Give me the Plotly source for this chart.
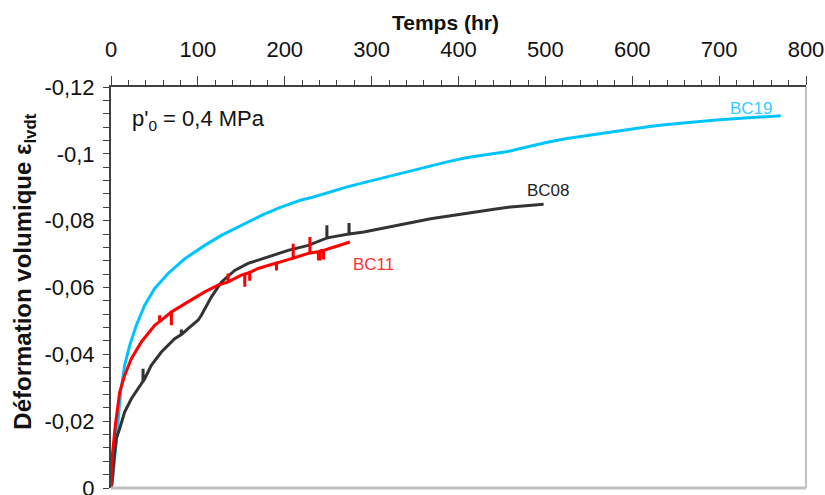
import plotly.graph_objects as go

# Temps (hr) / déformation volumique for each sample
bc19_t = [0, 1.2, 4.2, 7.3, 11.1, 15.7, 21.5, 29.2, 38.8, 50.3, 65.7, 84.9, 107.9, 127, 150,
          175, 195, 218, 233, 250, 272, 290, 310, 330, 348, 367, 387, 410, 425, 440, 455,
          470, 486, 505, 525, 545, 563, 582, 602, 620, 640, 660, 679, 700, 717, 740, 760, 771]
bc19_e = [0, -0.001, -0.0088, -0.0188, -0.0287, -0.0367, -0.0427, -0.0487, -0.0547, -0.0597,
          -0.0642, -0.0686, -0.0726, -0.0756, -0.0786, -0.0818, -0.0840, -0.0861, -0.0871,
          -0.0885, -0.0901, -0.0913, -0.0926, -0.0939, -0.0951, -0.0963, -0.0976, -0.0989,
          -0.0995, -0.1000, -0.1006, -0.1015, -0.1025, -0.1036, -0.1046, -0.1054, -0.1061,
          -0.1069, -0.1076, -0.1082, -0.1088, -0.1093, -0.1098, -0.1102, -0.1105, -0.1109,
          -0.1112, -0.1114]

bc08_t = [0, 1.2, 3.5, 6.1, 10, 15.7, 23.4, 31.1, 36.8, 36.9, 37.0, 38.8, 46.4, 58, 73.3,
          80.9, 81, 81.1, 88.7, 95, 100.2, 104, 107.9, 115.6, 127, 142.4, 157.8, 180.9, 203.9,
          227, 248.4, 248.5, 248.6, 252, 270, 273.9, 274, 274.1, 291, 310, 329, 348, 368, 387,
          406, 425, 441, 460, 480, 498]
bc08_e = [0, -0.002, -0.0088, -0.0148, -0.0178, -0.0227, -0.0267, -0.0297, -0.0319, -0.0357,
          -0.0319, -0.0327, -0.0367, -0.0407, -0.0447, -0.0459, -0.0474, -0.0459, -0.0477,
          -0.0490, -0.0502, -0.0517, -0.0537, -0.0572, -0.0616, -0.0651, -0.0672, -0.0691,
          -0.0711, -0.0726, -0.0748, -0.0786, -0.0748, -0.0750, -0.0758, -0.0760, -0.0793,
          -0.0760, -0.0766, -0.0776, -0.0786, -0.0796, -0.0806, -0.0813, -0.0821, -0.0828,
          -0.0834, -0.0841, -0.0845, -0.0849]

bc11_t = [0, 1.2, 5, 10, 15.7, 23.4, 34.9, 50.3, 55.9, 56, 56.1, 69.4, 69.5, 69.6, 88.7,
          107.9, 123.3, 134.7, 134.8, 134.9, 150, 153.9, 154, 154.1, 159.6, 159.7, 159.8,
          169.3, 188.6, 190.4, 190.5, 190.6, 209.6, 209.7, 209.8, 227, 228.9, 229, 229.1,
          238.7, 238.8, 238.9, 240.7, 240.8, 240.9, 244.5, 244.6, 244.7, 258, 275]
bc11_e = [0, -0.0088, -0.0188, -0.0287, -0.0337, -0.0387, -0.0437, -0.0487, -0.0498, -0.0517,
          -0.0498, -0.0527, -0.0487, -0.0527, -0.0557, -0.0587, -0.0607, -0.0617, -0.0642,
          -0.0617, -0.0637, -0.0640, -0.0602, -0.0640, -0.0645, -0.0620, -0.0645, -0.0657,
          -0.0672, -0.0673, -0.0651, -0.0673, -0.0688, -0.0731, -0.0688, -0.0702, -0.0703,
          -0.0751, -0.0703, -0.0707, -0.0681, -0.0707, -0.0709, -0.0681, -0.0709, -0.0711,
          -0.0684, -0.0711, -0.0722, -0.0736]

x_ticks = [0, 100, 200, 300, 400, 500, 600, 700, 800]
y_ticks = [-0.12, -0.1, -0.08, -0.06, -0.04, -0.02, 0]
y_tick_labels = ["-0,12", "-0,1", "-0,08", "-0,06", "-0,04", "-0,02", "0"]

SANS = "Liberation Sans, Arial, sans-serif"

fig = go.Figure()
fig.add_trace(go.Scatter(x=bc19_t, y=bc19_e, mode="lines",
                         line=dict(color="#00c4ff", width=3), name="BC19"))
fig.add_trace(go.Scatter(x=bc08_t, y=bc08_e, mode="lines",
                         line=dict(color="#333333", width=3), name="BC08"))
fig.add_trace(go.Scatter(x=bc11_t, y=bc11_e, mode="lines",
                         line=dict(color="#ff0000", width=3), name="BC11"))

axis_col = "#404040"
fig.update_layout(
    width=825, height=495,
    margin=dict(l=111, r=19, t=87, b=7),
    paper_bgcolor="white", plot_bgcolor="white",
    showlegend=False,
    xaxis=dict(
        side="top", range=[0, 800], tickvals=x_ticks, automargin=False,
        ticks="outside", ticklen=9, tickwidth=1.2, tickcolor=axis_col,
        minor=dict(dtick=20, ticks="outside", ticklen=5, tickwidth=1, tickcolor=axis_col),
        showline=True, linecolor=axis_col, linewidth=2,
        showgrid=False, zeroline=False,
        tickfont=dict(family=SANS, size=22, color="#111111"),
        ticklabelstandoff=10, ticklabeloverflow="allow",
    ),
    yaxis=dict(
        range=[0, -0.12], tickvals=y_ticks, ticktext=y_tick_labels, automargin=False,
        ticks="outside", ticklen=6, tickwidth=1.2, tickcolor=axis_col,
        minor=dict(dtick=0.004, ticks="outside", ticklen=6, tickwidth=1, tickcolor=axis_col),
        showline=True, linecolor=axis_col, linewidth=2,
        showgrid=False, zeroline=False,
        tickfont=dict(family=SANS, size=22, color="#111111"),
        ticklabelstandoff=4, ticklabeloverflow="allow",
    ),
    shapes=[
        dict(type="line", xref="paper", yref="paper", x0=0, x1=1, y0=0, y1=0,
             line=dict(color="#c0c0c0", width=3)),
        dict(type="line", xref="paper", yref="paper", x0=1, x1=1, y0=0, y1=1,
             line=dict(color="#c0c0c0", width=2)),
    ],
    annotations=[
        dict(text="<b>Temps (hr)</b>", xref="paper", yref="paper", x=0.482, y=1.162,
             xanchor="center", yanchor="middle", showarrow=False,
             font=dict(family=SANS, size=21, color="#111111")),
        dict(text="<b>Déformation volumique ε<sub>lvdt</sub></b>", xref="paper", yref="paper",
             x=-0.124, y=0.539, textangle=-90, xanchor="center", yanchor="middle",
             showarrow=False, font=dict(family=SANS, size=24, color="#111111")),
        dict(text="p'<sub>0</sub> = 0,4 MPa", xref="paper", yref="paper", x=0.027, y=0.917,
             xanchor="left", yanchor="middle", showarrow=False,
             font=dict(family=SANS, size=22, color="#111111")),
        dict(text="BC19", x=737, y=-0.1136, showarrow=False, xanchor="center", yanchor="middle",
             font=dict(family=SANS, size=17, color="#33ccff")),
        dict(text="BC08", x=504, y=-0.0889, showarrow=False, xanchor="center", yanchor="middle",
             font=dict(family=SANS, size=17, color="#222222")),
        dict(text="BC11", x=302, y=-0.0670, showarrow=False, xanchor="center", yanchor="middle",
             font=dict(family=SANS, size=17, color="#ff3333")),
    ],
)

fig.write_html("out.html")
